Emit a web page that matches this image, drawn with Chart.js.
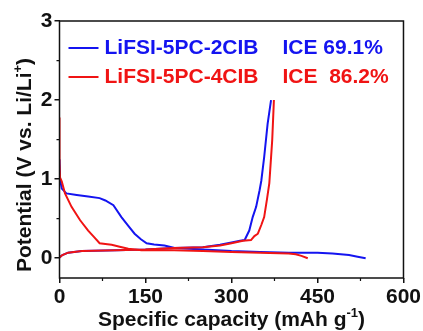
<!DOCTYPE html>
<html>
<head>
<meta charset="utf-8">
<script src="https://cdn.jsdelivr.net/npm/chart.js@4.4.0/dist/chart.umd.min.js"></script>
<style>
  html, body { margin: 0; padding: 0; background: #fff; }
  #wrap { width: 423px; height: 331px; position: relative; }
</style>
</head>
<body>
<div id="wrap"><canvas id="chart"></canvas></div>
<script>
// charge / discharge profiles, capacity in mAh/g, potential in V
const blueDisCap = [0, 1, 4, 12, 30, 50, 70, 80, 94, 108, 120, 131, 142, 152, 165, 183, 201, 250, 300, 350, 400, 450, 476, 505, 520, 534];
const blueDisV   = [1.25, 1.0, 0.88, 0.82, 0.80, 0.78, 0.76, 0.73, 0.67, 0.52, 0.41, 0.31, 0.24, 0.19, 0.175, 0.16, 0.13, 0.11, 0.09, 0.08, 0.07, 0.07, 0.06, 0.04, 0.02, 0.0];
const blueChCap  = [0, 5, 15, 39, 100, 150, 200, 250, 280, 300, 315, 323, 331, 337, 343, 349, 352, 357, 363, 369];
const blueChV    = [0.01, 0.04, 0.07, 0.09, 0.10, 0.11, 0.13, 0.14, 0.17, 0.20, 0.22, 0.23, 0.35, 0.52, 0.65, 0.86, 0.98, 1.28, 1.70, 2.0];

const redDisCap = [0, 0, 1, 4, 9.6, 21, 36, 50, 60, 70, 80, 91, 105, 120, 143, 200, 250, 300, 350, 400, 412, 422, 433];
const redDisV   = [1.78, 1.2, 1.02, 0.97, 0.82, 0.65, 0.48, 0.35, 0.27, 0.19, 0.18, 0.17, 0.145, 0.12, 0.10, 0.10, 0.09, 0.08, 0.07, 0.06, 0.05, 0.03, 0.0];
const redChCap  = [0, 5, 15, 39, 100, 150, 200, 250, 280, 300, 320, 334, 340, 346, 352, 357, 362, 366, 371, 374];
const redChV    = [0.01, 0.04, 0.07, 0.09, 0.10, 0.11, 0.13, 0.14, 0.16, 0.19, 0.22, 0.23, 0.28, 0.31, 0.42, 0.52, 0.75, 0.95, 1.49, 2.0];

const xTicks = [0, 150, 300, 450, 600];
const xMinor = [75, 225, 375, 525];
const yTicks = [0, 1, 2, 3];
const yMinor = [0.5, 1.5, 2.5];

const legendNames = ['LiFSI-5PC-2CIB', 'LiFSI-5PC-4CIB'];
const legendIce = ['ICE 69.1%', 'ICE  86.2%'];

const BLUE = '#1414f0';
const RED = '#f01414';
const FONT = '"Liberation Sans", Arial, sans-serif';

const toPts = (xs, ys) => xs.map((x, i) => ({ x: x, y: ys[i] }));

const line = (data, color) => ({
  data: data,
  borderColor: color,
  borderWidth: 2,
  pointRadius: 0,
  showLine: true,
  tension: 0,
  fill: false
});

// frame, minor ticks, legend and axis titles
const decor = {
  id: 'decor',
  afterDraw(chart) {
    const { ctx, chartArea: a, scales } = chart;
    const xs = scales.x, ys = scales.y;
    ctx.save();
    ctx.strokeStyle = '#111';
    ctx.lineWidth = 1.5;
    ctx.strokeRect(a.left, a.top, a.right - a.left, a.bottom - a.top);

    ctx.lineWidth = 1.2;
    ctx.beginPath();
    xMinor.forEach(v => {
      const px = xs.getPixelForValue(v);
      ctx.moveTo(px, a.bottom);
      ctx.lineTo(px, a.bottom + 3);
    });
    yMinor.forEach(v => {
      const py = ys.getPixelForValue(v);
      ctx.moveTo(a.left, py);
      ctx.lineTo(a.left - 3, py);
    });
    ctx.stroke();

    // legend
    const colors = [BLUE, RED];
    ctx.font = 'bold 21px ' + FONT;
    ctx.textBaseline = 'middle';
    legendNames.forEach((name, i) => {
      const y = a.top + 27 + i * 29;
      ctx.strokeStyle = colors[i];
      ctx.lineWidth = 2;
      ctx.beginPath();
      ctx.moveTo(a.left + 9, y);
      ctx.lineTo(a.left + 39, y);
      ctx.stroke();
      ctx.fillStyle = colors[i];
      ctx.textAlign = 'left';
      ctx.fillText(name, a.left + 45, y);
      ctx.fillText(legendIce[i], a.left + 223, y);
    });

    // axis titles with superscripts
    ctx.fillStyle = '#111';
    const drawSup = (parts, cx, cy) => {
      const big = 'bold 21px ' + FONT, small = 'bold 13px ' + FONT;
      let w = 0;
      parts.forEach(p => { ctx.font = p.sup ? small : big; w += ctx.measureText(p.t).width; });
      let x = cx - w / 2;
      parts.forEach(p => {
        ctx.font = p.sup ? small : big;
        ctx.fillText(p.t, x, p.sup ? cy - 9 : cy);
        x += ctx.measureText(p.t).width;
      });
    };
    ctx.textAlign = 'left';
    ctx.textBaseline = 'alphabetic';
    drawSup([{ t: 'Specific capacity (mAh g' }, { t: '-1', sup: true }, { t: ')' }],
      (a.left + a.right) / 2, 326);

    ctx.translate(31, 165);
    ctx.rotate(-Math.PI / 2);
    drawSup([{ t: 'Potential (V vs. Li/Li' }, { t: '+', sup: true }, { t: ')' }], 0, 0);
    ctx.restore();
  }
};

new Chart(document.getElementById('chart'), {
  type: 'scatter',
  data: {
    datasets: [
      line(toPts(redDisCap, redDisV), RED),
      line(toPts(redChCap, redChV), RED),
      line(toPts(blueDisCap, blueDisV), BLUE),
      line(toPts(blueChCap, blueChV), BLUE)
    ]
  },
  options: {
    responsive: true,
    maintainAspectRatio: false,
    animation: false,
    layout: { padding: { top: 21, right: 18, left: 0, bottom: 0 } },
    plugins: { legend: { display: false }, tooltip: { enabled: false } },
    scales: {
      x: {
        type: 'linear',
        min: 0,
        max: 600,
        afterBuildTicks: axis => { axis.ticks = xTicks.map(v => ({ value: v })); },
        afterFit: scale => { scale.height = 53; },
        grid: { drawOnChartArea: false, tickLength: 5, color: '#111', lineWidth: 1.5 },
        border: { display: false },
        ticks: { color: '#111', font: { family: FONT, size: 21, weight: 'bold' }, padding: 2, maxRotation: 0 }
      },
      y: {
        type: 'linear',
        min: -0.25,
        max: 3,
        afterBuildTicks: axis => { axis.ticks = yTicks.map(v => ({ value: v })); },
        afterFit: scale => { scale.width = 59.5; },
        grid: { drawOnChartArea: false, tickLength: 5, color: '#111', lineWidth: 1.5 },
        border: { display: false },
        ticks: { color: '#111', font: { family: FONT, size: 21, weight: 'bold' }, padding: 2 }
      }
    }
  },
  plugins: [decor]
});
</script>
</body>
</html>
